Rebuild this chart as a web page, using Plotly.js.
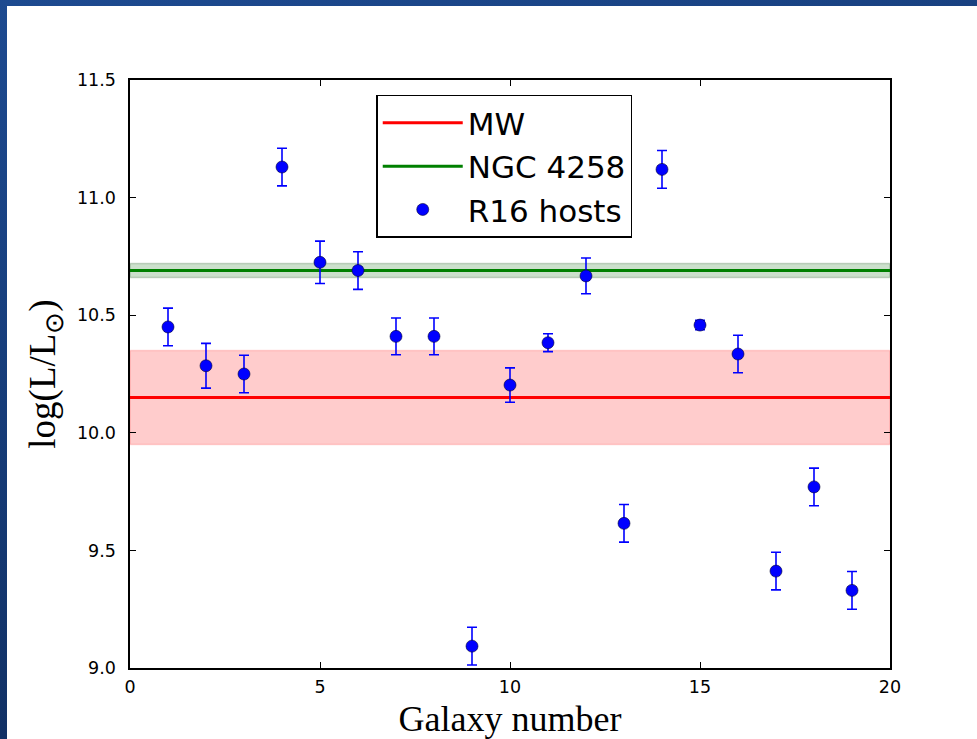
<!DOCTYPE html>
<html>
<head>
<meta charset="utf-8">
<script src="https://cdn.plot.ly/plotly-3.0.1.min.js"></script>
<style>
  html, body { margin: 0; padding: 0; width: 977px; height: 739px; overflow: hidden; }
  body { background: linear-gradient(165deg, #1d4a90 0%, #173e7c 35%, #0d2856 100%); position: relative; }
  #white { position: absolute; left: 7px; top: 6px; right: 0; bottom: 0; background: #ffffff; }
  #chart { position: absolute; left: 0; top: 0; width: 977px; height: 739px; }
</style>
</head>
<body>
<div id="white"></div>
<div id="chart"></div>
<script>
// Data
const galaxyNumber = [1, 2, 3, 4, 5, 6, 7, 8, 9, 10, 11, 12, 13, 14, 15, 16, 17, 18, 19];
const logL = [10.45, 10.285, 10.25, 11.13, 10.725, 10.69, 10.41, 10.41, 9.093, 10.203, 10.383, 10.667, 9.615, 11.12, 10.458, 10.335, 9.412, 9.77, 9.33];
const logLErr = [0.08, 0.095, 0.08, 0.08, 0.09, 0.08, 0.078, 0.078, 0.08, 0.073, 0.038, 0.076, 0.08, 0.08, 0.02, 0.08, 0.08, 0.08, 0.08];

const xRange = [0, 20];
const mwValue = 10.15;
const mwErr = 0.2;
const ngcValue = 10.69;
const ngcErr = 0.03;

const xTicks = [0, 5, 10, 15, 20];
const yTicks = [9.0, 9.5, 10.0, 10.5, 11.0, 11.5];

function band(center, err) {
  return {
    x: [xRange[0], xRange[1], xRange[1], xRange[0], xRange[0]],
    y: [center - err, center - err, center + err, center + err, center - err]
  };
}

const mwBand = band(mwValue, mwErr);
const ngcBand = band(ngcValue, ngcErr);

const traces = [
  {
    x: mwBand.x, y: mwBand.y, type: 'scatter', mode: 'lines',
    fill: 'toself', fillcolor: 'rgba(255,0,0,0.2)',
    line: { color: 'rgba(255,0,0,0.15)', width: 1.5 },
    showlegend: false, hoverinfo: 'skip'
  },
  {
    x: ngcBand.x, y: ngcBand.y, type: 'scatter', mode: 'lines',
    fill: 'toself', fillcolor: 'rgba(0,100,0,0.2)',
    line: { color: 'rgba(0,60,0,0.2)', width: 1.5 },
    showlegend: false, hoverinfo: 'skip'
  },
  {
    x: xRange, y: [mwValue, mwValue], type: 'scatter', mode: 'lines',
    name: 'MW', line: { color: '#ff0000', width: 3 }
  },
  {
    x: xRange, y: [ngcValue, ngcValue], type: 'scatter', mode: 'lines',
    name: 'NGC 4258', line: { color: '#008000', width: 3 }
  },
  {
    x: galaxyNumber, y: logL, type: 'scatter', mode: 'markers',
    name: 'R16 hosts',
    marker: { color: '#0000ff', size: 12, line: { color: '#000033', width: 0.6 } },
    error_y: { type: 'data', array: logLErr, visible: true, color: '#0000ff', thickness: 1.6, width: 5 }
  }
];

const axisCommon = {
  showline: true, linecolor: '#000000', linewidth: 1.6, mirror: 'ticks',
  ticks: 'inside', ticklen: 6, tickwidth: 1, tickcolor: '#000000',
  showgrid: false, zeroline: false,
  tickfont: { family: 'DejaVu Sans', size: 17.5, color: '#000000' }
};

const layout = {
  width: 977, height: 739,
  margin: { l: 130, r: 87, t: 80, b: 71 },
  paper_bgcolor: 'rgba(0,0,0,0)',
  plot_bgcolor: '#ffffff',
  xaxis: Object.assign({}, axisCommon, {
    range: xRange, tickvals: xTicks, ticktext: xTicks.map(String),
    ticklabelstandoff: 2,
    title: { text: 'Galaxy number', font: { family: 'Liberation Serif', size: 36, color: '#000000' }, standoff: 20 }
  }),
  yaxis: Object.assign({}, axisCommon, {
    range: [yTicks[0], yTicks[yTicks.length - 1]], tickvals: yTicks, ticktext: yTicks.map(v => v.toFixed(1)),
    ticklabelstandoff: 9,
    title: { text: 'log(L/L<sub>⊙</sub>)', font: { family: 'Liberation Serif', size: 37, color: '#000000' }, standoff: 10 }
  }),
  legend: {
    x: 0.324, y: 0.975, xanchor: 'left', yanchor: 'top',
    bgcolor: '#ffffff', bordercolor: '#000000', borderwidth: 1.5,
    font: { family: 'DejaVu Sans', size: 31, color: '#000000' },
    itemwidth: 80
  },
  showlegend: true
};

Plotly.newPlot('chart', traces, layout, { staticPlot: true, displayModeBar: false });
</script>
</body>
</html>
